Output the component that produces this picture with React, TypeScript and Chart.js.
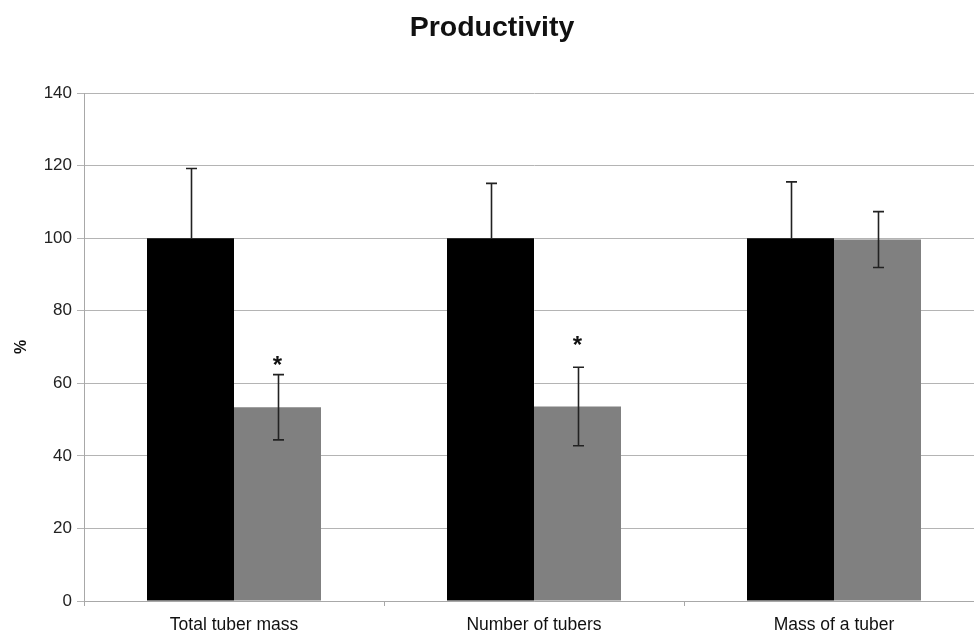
import React, { useEffect, useRef } from "react";
import { Chart, registerables } from "chart.js";

Chart.register(...registerables);

const categories = ["Total tuber mass", "Number of tubers", "Mass of a tuber"];
const controlValues = [100, 100, 100];
const controlErrors = [19.2, 15.1, 15.5];
const treatedValues = [53.4, 53.6, 99.6];
const treatedErrors = [9.0, 10.8, 7.7];
const asteriskLevels: (number | null)[] = [66.7, 72.1, null];
const yMin = 0;
const yMax = 140;
const yStep = 20;

const FONT = "'Liberation Sans', Arial, sans-serif";

const errorBarPlugin = {
  id: "errorBars",
  afterDatasetsDraw(chart: any) {
    const ctx = chart.ctx;
    const yScale = chart.scales.y;
    const errs = [controlErrors, treatedErrors];
    ctx.save();
    ctx.strokeStyle = "#222";
    ctx.lineWidth = 1.6;
    chart.data.datasets.forEach((ds: any, i: number) => {
      const meta = chart.getDatasetMeta(i);
      meta.data.forEach((el: any, j: number) => {
        const v = ds.data[j];
        const e = errs[i][j];
        const x = Math.round(el.x) + 0.5;
        const yt = yScale.getPixelForValue(v + e);
        // the lower half of the control error bar is hidden inside the black bar
        const yb = i === 0 ? yScale.getPixelForValue(v) : yScale.getPixelForValue(v - e);
        ctx.beginPath();
        ctx.moveTo(x, yt);
        ctx.lineTo(x, yb);
        ctx.moveTo(x - 5.5, yt);
        ctx.lineTo(x + 5.5, yt);
        if (i !== 0) {
          ctx.moveTo(x - 5.5, yb);
          ctx.lineTo(x + 5.5, yb);
        }
        ctx.stroke();
      });
    });
    const meta1 = chart.getDatasetMeta(1);
    ctx.fillStyle = "#111";
    ctx.font = `bold 24px ${FONT}`;
    ctx.textAlign = "center";
    ctx.textBaseline = "alphabetic";
    asteriskLevels.forEach((lvl, j) => {
      if (lvl == null) return;
      const el = meta1.data[j];
      const y = yScale.getPixelForValue(lvl);
      ctx.fillText("*", el.x, y + 0.57 * 24);
    });
    ctx.restore();
  },
};

export default function App() {
  const ref = useRef<HTMLCanvasElement | null>(null);
  useEffect(() => {
    if (!ref.current) return;
    const chart = new Chart(ref.current, {
      type: "bar",
      data: {
        labels: categories,
        datasets: [
          {
            label: "Control",
            data: controlValues,
            backgroundColor: "#000000",
            barPercentage: 1,
            categoryPercentage: 0.58,
          },
          {
            label: "Treated",
            data: treatedValues,
            backgroundColor: "#808080",
            barPercentage: 1,
            categoryPercentage: 0.58,
          },
        ],
      },
      options: {
        animation: false,
        responsive: false,
        devicePixelRatio: 1,
        layout: { padding: { left: 0, right: 0, top: 0, bottom: 0 } },
        plugins: {
          legend: { display: false },
          tooltip: { enabled: false },
          title: {
            display: true,
            text: "Productivity",
            color: "#111",
            font: { family: FONT, size: 28.5, weight: "bold" },
            padding: { top: 11, bottom: 47.8 },
          },
        },
        scales: {
          x: {
            offset: true,
            grid: {
              display: true,
              drawOnChartArea: false,
              drawTicks: true,
              tickLength: 5,
              offset: true,
              color: "#a8a8a8",
            },
            border: { display: true, color: "#a8a8a8", width: 1 },
            ticks: {
              color: "#111",
              font: { family: FONT, size: 17.5 },
              padding: 9,
              maxRotation: 0,
            },
            afterFit(scale: any) {
              scale.height = 33;
            },
          },
          y: {
            min: yMin,
            max: yMax,
            ticks: {
              stepSize: yStep,
              color: "#222",
              font: { family: FONT, size: 17 },
              padding: 5,
            },
            grid: {
              color: "#b4b4b4",
              tickLength: 7,
              lineWidth: 1,
            },
            border: { display: true, color: "#a8a8a8", width: 1 },
            title: {
              display: true,
              text: "%",
              color: "#111",
              font: { family: FONT, size: 16, weight: "bold" },
              padding: { top: 12, bottom: 0 },
            },
            afterFit(scale: any) {
              scale.width = 84;
            },
          },
        },
      },
      plugins: [errorBarPlugin],
    } as any);
    return () => chart.destroy();
  }, []);
  return (
    <div
      style={{
        position: "fixed",
        left: 0,
        top: 0,
        width: 974,
        height: 634,
        overflow: "hidden",
        background: "#fff",
      }}
    >
      <canvas ref={ref} width={984} height={634} style={{ display: "block" }} />
    </div>
  );
}
